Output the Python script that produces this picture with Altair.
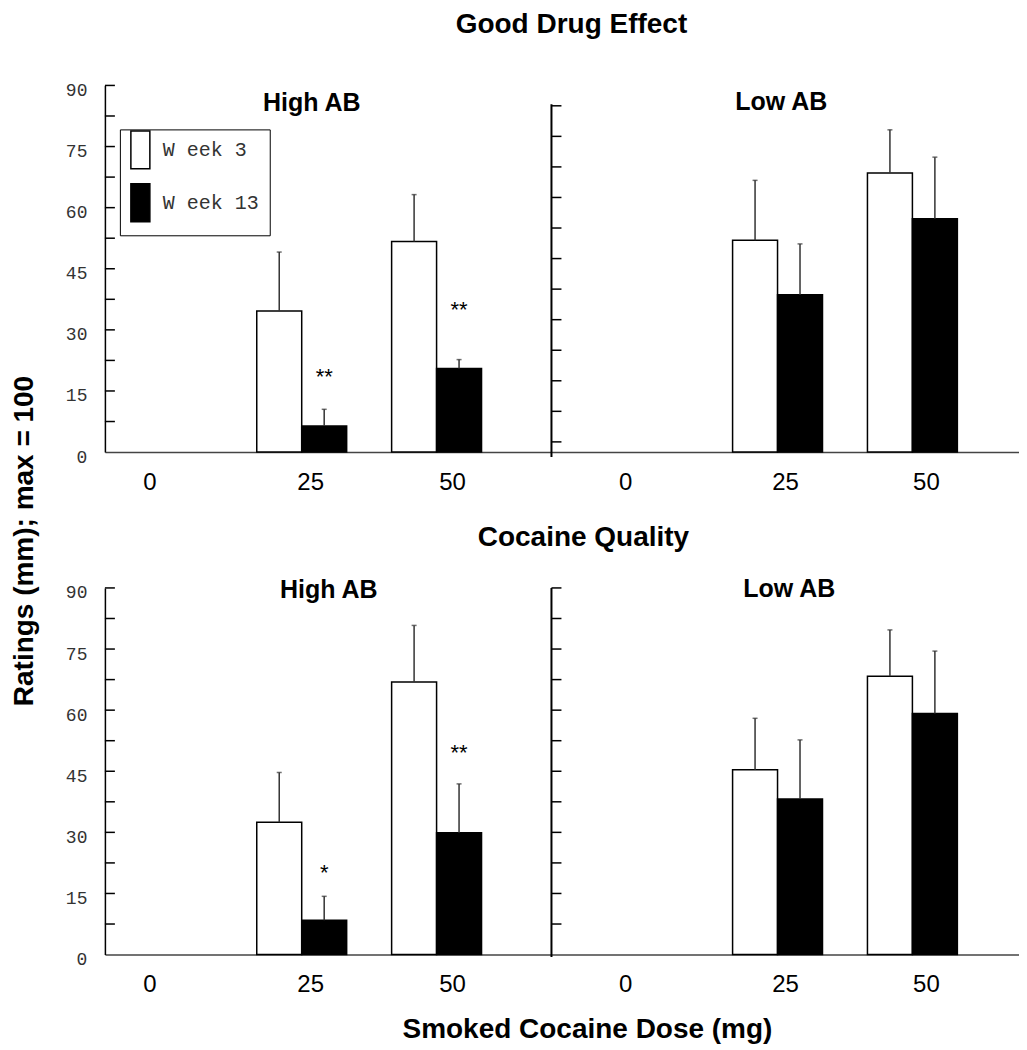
import altair as alt
import pandas as pd

# ---------------- data ----------------
doses = ["0", "25", "50"]
bar_doses = ["25", "50"]
weeks = ["W eek 3", "W eek 13"]

# Good Drug Effect
gde_high_w3 = [34.6, 51.7]
gde_high_w3_sem = [14.5, 11.5]
gde_high_w13 = [6.4, 20.5]
gde_high_w13_sem = [4.1, 2.2]
gde_low_w3 = [52.0, 68.5]
gde_low_w3_sem = [14.7, 10.6]
gde_low_w13 = [38.6, 57.3]
gde_low_w13_sem = [12.5, 15.1]

# Cocaine Quality
cq_high_w3 = [32.5, 66.9]
cq_high_w3_sem = [12.2, 13.9]
cq_high_w13 = [8.4, 29.9]
cq_high_w13_sem = [5.9, 12.0]
cq_low_w3 = [45.4, 68.3]
cq_low_w3_sem = [12.6, 11.4]
cq_low_w13 = [38.2, 59.2]
cq_low_w13_sem = [14.5, 15.3]

# significance markers (over Week 13 bars)
gde_high_stars = ["**", "**"]
gde_high_star_y = [18.9, 35.4]
cq_high_stars = ["*", "**"]
cq_high_star_y = [20.6, 50.0]

# axes
y_tick_labels = [0, 15, 30, 45, 60, 75, 90]
left_ticks = [7.5, 15, 22.5, 30, 37.5, 45, 52.5, 60, 67.5, 75, 82.5, 90]
gde_low_ticks = [2.5, 10, 17.5, 25, 32.5, 40, 47.5, 55, 62.5, 70, 77.5, 85]
gde_low_axis = [85.4, -1.2]
cq_low_ticks = [7.5, 15, 22.5, 30, 37.5, 45, 52.5, 60, 67.5, 75, 82.5, 90]
cq_low_axis = [90, -0.6]

PLOT_H = 367
LEFT_W = 447
RIGHT_W = 468
BOLD = "Liberation Sans"

legend = alt.Legend(
    title=None, orient="none", legendX=15, legendY=44,
    symbolType="M-1,-2H1V2H-1Z", symbolSize=361,
    symbolStrokeColor="black", symbolStrokeWidth=1.5, symbolOpacity=1,
    labelFont="Liberation Mono", labelFontSize=20, labelColor="#333",
    labelOffset=12, padding=10, rowPadding=8,
    strokeColor="black", fillColor="white",
)


def bar_frame(w3, w3s, w13, w13s):
    rows = []
    for d, v, s in zip(bar_doses, w3, w3s):
        rows.append({"dose": d, "week": weeks[0], "value": v, "upper": v + s})
    for d, v, s in zip(bar_doses, w13, w13s):
        rows.append({"dose": d, "week": weeks[1], "value": v, "upper": v + s})
    return pd.DataFrame(rows)


def panel(w3, w3s, w13, w13s, ticks, width, pad_outer, align, lab_off,
          left_axis, axis_line=None, stars=None, star_y=None, texts=()):
    df = bar_frame(w3, w3s, w13, w13s)
    xenc = alt.X(
        "dose:N", sort=doses,
        scale=alt.Scale(domain=doses, paddingInner=1 / 3,
                        paddingOuter=pad_outer, align=align),
        axis=alt.Axis(
            title=None, labelAngle=0, ticks=False, tickSize=0,
            domainColor="#444", domainWidth=1.5,
            labelFont="Liberation Sans", labelFontSize=24, labelColor="black",
            labelPadding=30, labelBaseline="middle",
            labelOffset={"condition": [
                {"test": "datum.value == '0'", "value": lab_off[0]},
                {"test": "datum.value == '25'", "value": lab_off[1]}],
                "value": lab_off[2]},
        ),
    )
    xoff = alt.XOffset("week:N", sort=weeks,
                       scale=alt.Scale(domain=weeks, paddingInner=0, paddingOuter=0))
    if left_axis:
        yaxis = alt.Axis(
            title=None, values=y_tick_labels, ticks=False, tickSize=0,
            domain=True, domainColor="black", domainWidth=1.5, grid=False,
            labelFont="Liberation Mono", labelFontSize=18, labelColor="#333",
            labelPadding=18, labelOffset=5, labelBaseline="middle",
        )
    else:
        yaxis = None
    yscale = alt.Scale(domain=[0, 90], nice=False, zero=True)

    def yenc(field):
        return alt.Y(field, scale=yscale, axis=yaxis, title=None)

    bars = alt.Chart(df).mark_bar(stroke="black", strokeWidth=1.5).encode(
        x=xenc, xOffset=xoff, y=yenc("value:Q"),
        fill=alt.Fill("week:N", sort=weeks,
                      scale=alt.Scale(domain=weeks, range=["white", "black"]),
                      legend=legend),
    )
    err = alt.Chart(df).mark_rule(color="#333", strokeWidth=1.5).encode(
        x=xenc, xOffset=xoff, y=yenc("value:Q"), y2="upper:Q")
    cap = alt.Chart(df).mark_tick(color="#333", orient="horizontal", size=5,
                                  thickness=1.5).encode(
        x=xenc, xOffset=xoff, y=yenc("upper:Q"))
    tdf = pd.DataFrame({"value": ticks})
    tick_layer = alt.Chart(tdf).mark_rule(color="black", strokeWidth=1.5).encode(
        x=alt.value(0), x2=alt.value(10), y=yenc("value:Q"))
    layers = [bars, err, cap, tick_layer]
    if axis_line is not None:
        adf = pd.DataFrame({"value": [axis_line[0]], "upper": [axis_line[1]]})
        layers.append(alt.Chart(adf).mark_rule(color="black", strokeWidth=2).encode(
            x=alt.value(0), y=yenc("value:Q"), y2="upper:Q"))
    if stars is not None:
        sdf = pd.DataFrame({"dose": bar_doses, "week": [weeks[1]] * 2,
                            "value": star_y, "star": stars})
        layers.append(alt.Chart(sdf).mark_text(
            font="Liberation Sans", fontSize=22, color="black", dy=2).encode(
            x=xenc, xOffset=xoff, y=yenc("value:Q"), text="star:N"))
    for (txt, px, py, size, angle) in texts:
        kw = dict(text=txt, font=BOLD, fontWeight="bold", fontSize=size,
                  color="black", align="center", baseline="middle")
        if angle:
            kw["angle"] = angle
        layers.append(alt.Chart(pd.DataFrame({"a": [0]})).mark_text(**kw).encode(
            x=alt.value(px), y=alt.value(py)))
    return alt.layer(*layers).properties(width=width, height=PLOT_H)


top_left = panel(gde_high_w3, gde_high_w3_sem, gde_high_w13, gde_high_w13_sem,
                 left_ticks, LEFT_W, 0.3222, 0.1954, [-17, 9, 16], True,
                 stars=gde_high_stars, star_y=gde_high_star_y,
                 texts=[("High AB", 207, 18, 25, 0),
                        ("Good Drug Effect", 467, -60, 28, 0),
                        ("Ratings (mm); max = 100", -80, 456, 28, 270)])
top_right = panel(gde_low_w3, gde_low_w3_sem, gde_low_w13, gde_low_w13_sem,
                  gde_low_ticks, RIGHT_W, 0.4, 0.4287, [-17, 8, 14], False,
                  axis_line=gde_low_axis,
                  texts=[("Low AB", 230, 17, 25, 0)])
bottom_left = panel(cq_high_w3, cq_high_w3_sem, cq_high_w13, cq_high_w13_sem,
                    left_ticks, LEFT_W, 0.3222, 0.1954, [-17, 9, 16], True,
                    stars=cq_high_stars, star_y=cq_high_star_y,
                    texts=[("High AB", 224, 2, 25, 0),
                           ("Cocaine Quality", 479, -50, 28, 0),
                           ("Smoked Cocaine Dose (mg)", 483, 443, 28, 0)])
bottom_right = panel(cq_low_w3, cq_low_w3_sem, cq_low_w13, cq_low_w13_sem,
                     cq_low_ticks, RIGHT_W, 0.4, 0.4287, [-17, 8, 14], False,
                     axis_line=cq_low_axis,
                     texts=[("Low AB", 238, 1, 25, 0)])

row1 = alt.hconcat(top_left, top_right, spacing=0, bounds="flush")
row2 = alt.hconcat(bottom_left, bottom_right, spacing=0, bounds="flush")

chart = (
    alt.vconcat(row1, row2, spacing=PLOT_H + 136, bounds="flush")
    .properties(padding={"top": 3, "left": 3, "right": 0, "bottom": 0},
                background="white")
    .configure_view(stroke=None)
    .configure_axis(grid=False)
)

chart.save("out.html", embed_options={"renderer": "svg", "actions": False})
